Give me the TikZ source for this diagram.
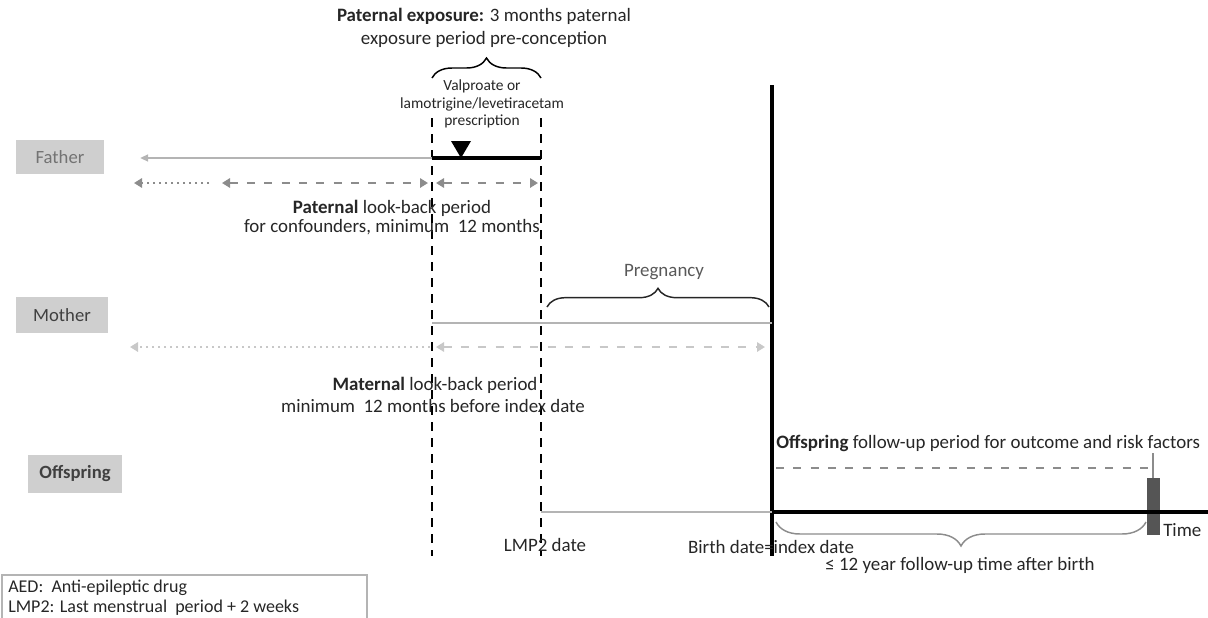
\documentclass[tikz,border=0pt]{standalone}
\usepackage{fontspec}
\setmainfont{Carlito}
\usetikzlibrary{arrows.meta,decorations.pathreplacing}

\definecolor{rolefill}{HTML}{CFCFCF}
\definecolor{inkdark}{HTML}{262626}
\definecolor{midgray}{HTML}{8C8C8C}
\definecolor{lightgray}{HTML}{B4B4B4}
\definecolor{palegray}{HTML}{C8C8C8}
\definecolor{markgray}{HTML}{555555}

\begin{document}
\begin{tikzpicture}[x=0.75pt,y=-0.75pt,
  lbl/.style={font=\fontsize{14.2}{17}\selectfont, inner sep=0pt, text=inkdark},
  smalllbl/.style={font=\fontsize{11.6}{13.2}\selectfont, inner sep=0pt, align=center, text=inkdark},
  legendtxt/.style={font=\fontsize{13.5}{15}\selectfont, inner sep=0pt, align=left, text=inkdark},
  rolebox/.style={fill=rolefill, inner sep=0pt, font=\fontsize{14}{17}\selectfont},
  guide/.style={line width=1.9pt, dash pattern=on 7pt off 5pt},
  bar/.style={line width=2.6pt, black},
  thinbar/.style={line width=1.4pt, lightgray},
  lookback/.style={line width=1.8pt, midgray, dash pattern=on 6pt off 7pt},
  dotback/.style={line width=1.6pt, midgray, dash pattern=on 1.5pt off 3pt},
  bracepath/.style={decorate, line width=1.1pt}
]
\useasboundingbox (0,0) rectangle (1208,618);

% ---------- role labels ----------
\node[rolebox, minimum width=66pt, minimum height=25.5pt, text=black!55] (father) at (60,157) {Father};
\node[rolebox, minimum width=69pt, minimum height=27pt, text=black!75] (mother) at (62,315) {Mother};
\node[rolebox, minimum width=70pt, minimum height=28.5pt, text=black!75, font=\fontsize{14}{17}\selectfont\bfseries] (offspring) at (75,474) {Offspring};

% ---------- vertical reference lines ----------
\coordinate (g1t) at (432,118); \coordinate (g1b) at (432,556);
\coordinate (g2t) at (541,118); \coordinate (g2b) at (541,556);
\draw[guide] (g1t) -- (g1b);
\draw[guide] (g2t) -- (g2b);
\coordinate (bt) at (772,85); \coordinate (bb) at (772,556);
\draw[line width=3pt] (bt) -- (bb);

% ---------- father ----------
\coordinate (fa0) at (140,158); \coordinate (fa1) at (432,158); \coordinate (fa2) at (541,158);
\draw[thinbar, line width=1.6pt, -{Triangle[length=6pt,width=5pt]}] (fa1) -- (fa0);
\draw[bar] (fa1) -- (fa2);
\fill (461,158) -- ++(-10,-17) -- ++(20,0) -- cycle;

% paternal look-back arrows
\coordinate (pb0) at (134,183); \coordinate (pb1) at (209,183);
\coordinate (pb2) at (222,183); \coordinate (pb3) at (428,183);
\coordinate (pb4) at (436,183); \coordinate (pb5) at (538,183);
\draw[dotback, -{Triangle[length=6pt,width=7pt]}] (pb1) -- (pb0);
\draw[lookback, {Triangle[length=6pt,width=7pt]}-{Triangle[length=6pt,width=7pt]}] (pb2) -- (pb3);
\draw[lookback, {Triangle[length=6pt,width=7pt]}-{Triangle[length=6pt,width=7pt]}] (pb4) -- (pb5);

% exposure window
\coordinate (eb0) at (432,78); \coordinate (eb1) at (541,78);
\draw[bracepath, decoration={brace, amplitude=15pt}] (eb0) -- (eb1);
\node[lbl, align=center, font=\fontsize{14.2}{17.3}\selectfont] (title) at (484,28)
  {\textbf{Paternal exposure:} 3 months paternal\\exposure period pre-conception};
\node[smalllbl] (rx) at (482,104) {Valproate or\\lamotrigine/levetiracetam\\prescription};

\node[lbl] (plb1) at (392,208) {\textbf{Paternal} look-back period};
\node[lbl] (plb2) at (392,227) {for confounders, minimum\ \ 12 months};

% ---------- mother ----------
\coordinate (ma0) at (432,323); \coordinate (ma1) at (772,323);
\draw[thinbar, line width=1.6pt] (ma0) -- (ma1);
\coordinate (pg0) at (547,307); \coordinate (pg1) at (769,307);
\draw[bracepath, inkdark, decoration={brace, amplitude=14pt}] (pg0) -- (pg1);
\node[lbl, text=black!65] (preg) at (664,272) {Pregnancy};

\coordinate (mb0) at (130,347); \coordinate (mb1) at (430,347);
\coordinate (mb2) at (436,347); \coordinate (mb3) at (765,347);
\draw[dotback, palegray, -{Triangle[length=6pt,width=7pt]}] (mb1) -- (mb0);
\draw[lookback, palegray, {Triangle[length=6pt,width=7pt]}-{Triangle[length=6pt,width=7pt]}] (mb2) -- (mb3);

\node[lbl] (mlb1) at (435,385) {\textbf{Maternal} look-back period};
\node[lbl] (mlb2) at (433,406) {minimum\ \ 12 months before index date};

% ---------- offspring ----------
\node[lbl, anchor=west] (ofu) at (776,443) {\textbf{Offspring} follow-up period for outcome and risk factors};
\coordinate (ob0) at (776,468); \coordinate (ob1) at (1150,468);
\draw[lookback, line width=1.4pt, midgray] (ob0) -- (ob1);

\coordinate (oa0) at (541,512); \coordinate (oa1) at (772,512); \coordinate (oa2) at (1208,512);
\draw[thinbar, line width=1.6pt] (oa0) -- (oa1);
\draw[line width=3pt] (oa1) -- (oa2);

% end of follow-up marker
\coordinate (mk0) at (1153,453); \coordinate (mk1) at (1153,478);
\draw[midgray, line width=1.2pt] (mk0) -- (mk1);
\fill[markgray] (1147,478) rectangle (1160,535);
\draw[line width=3pt] (1140,512) -- (1168,512);

\coordinate (fb0) at (1146,522); \coordinate (fb1) at (776,522);
\draw[bracepath, midgray, decoration={brace, amplitude=18pt}] (fb0) -- (fb1);

\node[lbl, anchor=west] (time) at (1163,530) {Time};
\node[lbl] (lmp) at (545,545) {LMP2 date};
\node[lbl] (birth) at (771,547) {Birth date=index date};
\node[lbl] (fut) at (960,565) {≤ 12 year follow-up time after birth};

% ---------- legend ----------
\draw[lightgray, line width=0.9pt] (2,618) -- (2,575) -- (367,575) -- (367,618);
\node[legendtxt, anchor=north west] (legend) at (8,580)
  {AED:\ \ Anti-epileptic drug\\LMP2: Last menstrual\ \ period + 2 weeks};
\end{tikzpicture}
\end{document}
